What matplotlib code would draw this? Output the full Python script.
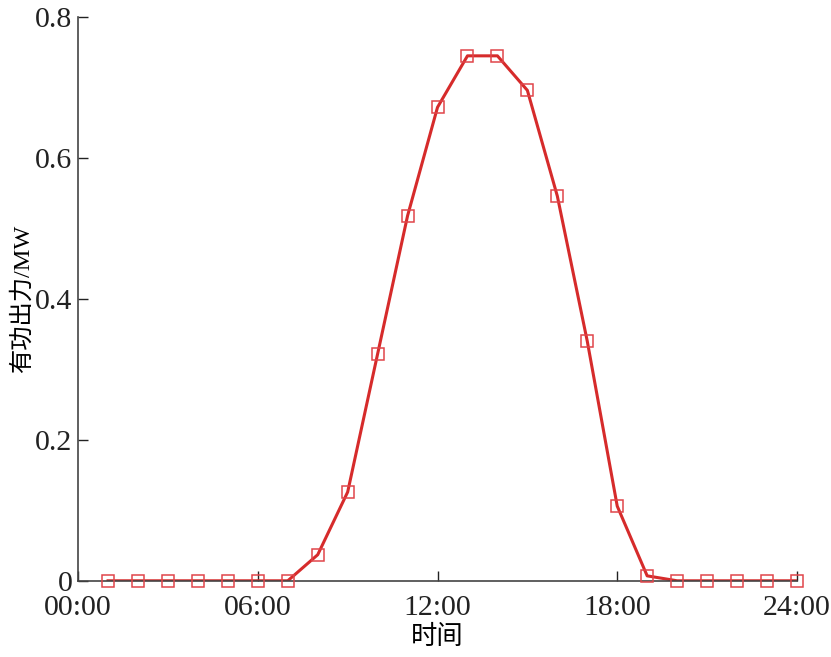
import matplotlib
matplotlib.use('Agg')
import matplotlib.pyplot as plt

# hourly active power output (MW), hours 1..24
hours = list(range(1, 25))
power = [0, 0, 0, 0, 0, 0, 0, 0.037, 0.126, 0.322, 0.518, 0.672,
         0.745, 0.745, 0.696, 0.546, 0.340, 0.106, 0.007, 0, 0, 0, 0, 0]
xticks = [0, 6, 12, 18, 24]
xtick_labels = ['00:00', '06:00', '12:00', '18:00', '24:00']
yticks = [0, 0.2, 0.4, 0.6, 0.8]
ytick_labels = ['0', '0.2', '0.4', '0.6', '0.8']

plt.rcParams['font.family'] = ['Liberation Serif', 'Noto Sans CJK SC']

fig = plt.figure(figsize=(8.31, 6.57), dpi=100)
ax = fig.add_axes([0.094, 0.116, 0.865, 0.858])

ax.plot(hours, power, color='#d62b2b', linewidth=2.2, zorder=2)
ax.plot(hours, power, linestyle='none', marker='s', markersize=8.5,
        markerfacecolor='none', markeredgecolor='#e0454a',
        markeredgewidth=1.1, zorder=3, clip_on=False)

ax.set_xlim(0, 24)
ax.set_ylim(0, 0.8)
ax.set_xticks(xticks)
ax.set_xticklabels(xtick_labels)
ax.set_yticks(yticks)
ax.set_yticklabels(ytick_labels)
ax.tick_params(direction='in', length=7, width=1, labelsize=21.5,
               colors='#222222')
ax.tick_params(axis='x', pad=10)
ax.tick_params(axis='y', pad=4)

for s in ['top', 'right']:
    ax.spines[s].set_visible(False)
for s in ['left', 'bottom']:
    ax.spines[s].set_color('#444444')
    ax.spines[s].set_linewidth(1.2)

ax.set_xlabel('时间', fontsize=19, labelpad=3)
ax.set_ylabel('有功出力/MW', fontsize=17.5, labelpad=1)

fig.savefig('out.png', dpi=100, facecolor='white')
